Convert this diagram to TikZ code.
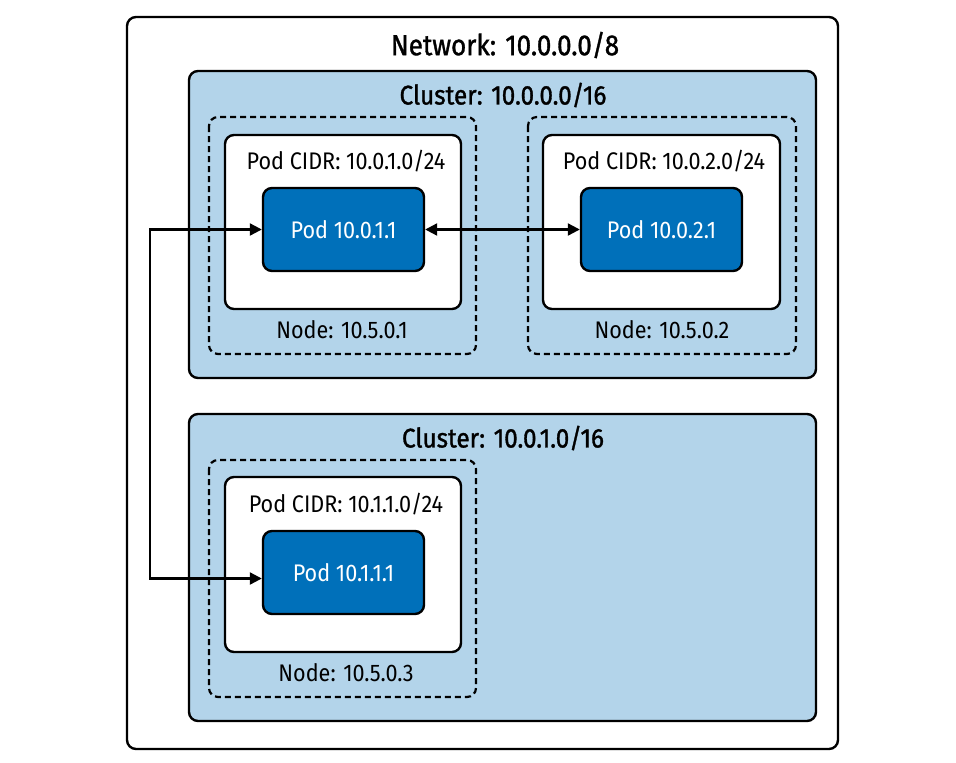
\documentclass[tikz,border=0pt]{standalone}
\usepackage{fontspec}
\setmainfont{Fira Sans}[FakeStretch=0.9]
\newfontfamily\titlefont{Fira Sans}[FakeStretch=0.9, FakeBold=1.2]
\usetikzlibrary{arrows.meta}
\definecolor{clusterblue}{HTML}{B3D4EA}
\definecolor{podblue}{HTML}{0070BA}
\tikzset{
  box/.style={draw=black, line width=2.4pt, rounded corners=9pt},
  cluster/.style={box, fill=clusterblue},
  nodebox/.style={draw=black, line width=2.2pt, dash pattern=on 6pt off 4pt, rounded corners=9pt},
  cidr/.style={box, fill=white},
  pod/.style={box, fill=podblue, text=white, font=\fontsize{24}{26}\selectfont, inner sep=0pt},
  lbl/.style={font=\fontsize{24}{26}\selectfont, inner sep=0pt},
  title/.style={font=\titlefont\fontsize{27}{29}\selectfont, inner sep=0pt},
  conn/.style={line width=2.2pt, {Triangle[length=12pt,width=12pt]}-{Triangle[length=12pt,width=12pt]}}
}
\begin{document}
\begin{tikzpicture}[x=1pt,y=-1pt]
\useasboundingbox (0,0) rectangle (956,763);
% network
\draw[box, fill=white] (127,17) rectangle (838,749);
\node[title, font=\titlefont\fontsize{29}{31}\selectfont] (nettitle) at (505,45) {Network: 10.0.0.0/8};
% cluster 1
\draw[cluster] (189,71) rectangle (816,378);
\node[title] (c1title) at (503,95) {Cluster: 10.0.0.0/16};
% node 1
\draw[nodebox] (209,117) rectangle (476,354);
\draw[cidr] (225,135) rectangle (461,309);
\node[lbl] (cidr1) at (346,161) {Pod CIDR: 10.0.1.0/24};
\node[pod, minimum width=161pt, minimum height=83pt] (pod1) at (343.5,229.5) {Pod 10.0.1.1};
\node[lbl] (n1) at (342,330) {Node: 10.5.0.1};
% node 2
\draw[nodebox] (528,117) rectangle (796,354);
\draw[cidr] (543,135) rectangle (780,309);
\node[lbl] (cidr2) at (664,161) {Pod CIDR: 10.0.2.0/24};
\node[pod, minimum width=161pt, minimum height=83pt] (pod2) at (661.5,229.5) {Pod 10.0.2.1};
\node[lbl] (n2) at (662,330) {Node: 10.5.0.2};
% cluster 2
\draw[cluster] (189,414) rectangle (816,721);
\node[title] (c2title) at (503,438) {Cluster: 10.0.1.0/16};
% node 3
\draw[nodebox] (209,460) rectangle (476,697);
\draw[cidr] (225,477) rectangle (461,652);
\node[lbl] (cidr3) at (346,504) {Pod CIDR: 10.1.1.0/24};
\node[pod, minimum width=161pt, minimum height=83pt] (pod3) at (343.5,572.5) {Pod 10.1.1.1};
\node[lbl] (n3) at (346,673) {Node: 10.5.0.3};
% connectors
\draw[conn] (pod1.west) -- (150,229.5) |- ([yshift=-6pt]pod3.west);
\draw[conn] (pod1.east) -- (pod2.west);
\end{tikzpicture}
\end{document}
